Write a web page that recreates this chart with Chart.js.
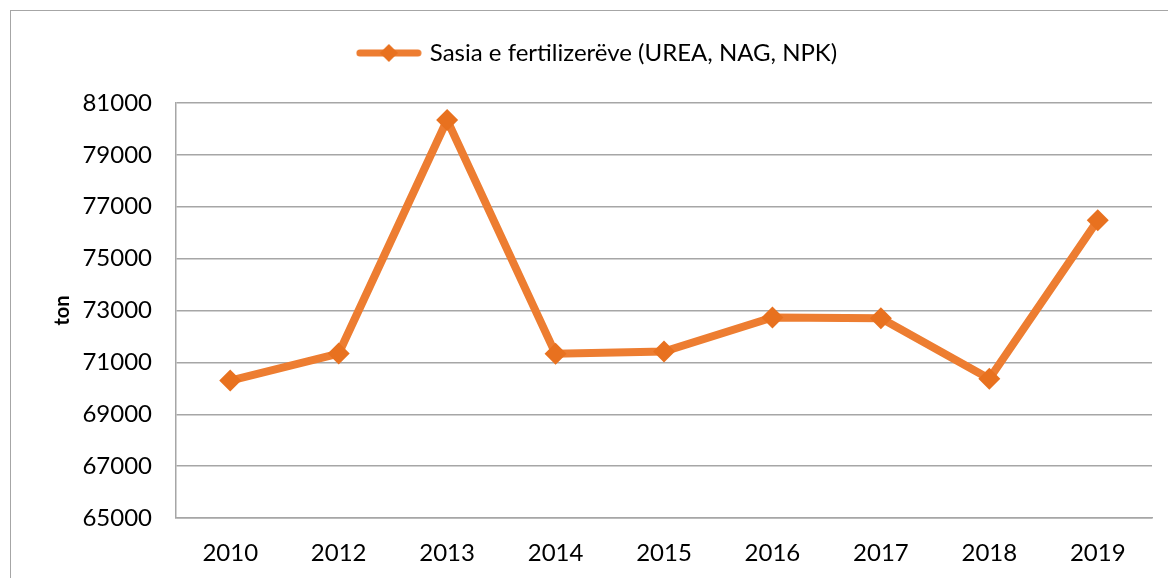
<!DOCTYPE html>
<html>
<head>
<meta charset="utf-8">
<script src="https://cdn.jsdelivr.net/npm/chart.js@4/dist/chart.umd.min.js"></script>
<style>
  html, body { margin: 0; padding: 0; background: #fff; overflow: hidden; }
  #wrap { position: relative; width: 1168px; height: 578px; }
  #frame { position: absolute; left: 10px; top: 10px; width: 1170px; height: 580px; border: 1.5px solid #a6a6a6; }
  canvas { position: absolute; left: 0; top: 0; }
</style>
</head>
<body>
<div id="wrap">
  <div id="frame"></div>
  <canvas id="chart" width="1168" height="578"></canvas>
</div>
<script>
const years = ['2010', '2012', '2013', '2014', '2015', '2016', '2017', '2018', '2019'];
const fertilizer = [70300, 71340, 80340, 71330, 71420, 72730, 72700, 70370, 76480];
const seriesName = 'Sasia e fertilizerëve (UREA, NAG, NPK)';
const orange = '#ED7D31';

// legend icon: line with a diamond
function legendIcon(){
  const c = document.createElement('canvas');
  c.width = 66; c.height = 20;
  const g = c.getContext('2d');
  g.strokeStyle = orange;
  g.lineWidth = 7;
  g.lineCap = 'round';
  g.beginPath();
  g.moveTo(4, 10); g.lineTo(62, 10);
  g.stroke();
  g.fillStyle = '#E8711F';
  g.beginPath();
  g.moveTo(33, 1); g.lineTo(42, 10); g.lineTo(33, 19); g.lineTo(24, 10);
  g.closePath();
  g.fill();
  return c;
}
const icon = legendIcon();

// extra room under the legend
const legendGap = {
  id: 'legendGap',
  beforeInit(chart){
    const fit = chart.legend.fit;
    chart.legend.fit = function(){
      fit.bind(chart.legend)();
      this.height += 28;
    };
  }
};

const ctx = document.getElementById('chart');

new Chart(ctx, {
  type: 'line',
  data: {
    labels: years,
    datasets: [{
      label: seriesName,
      data: fertilizer,
      borderColor: orange,
      backgroundColor: '#E8711F',
      borderWidth: 8,
      pointStyle: 'rectRot',
      pointRadius: 11,
      pointBorderWidth: 0,
      tension: 0
    }]
  },
  options: {
    responsive: false,
    animation: false,
    layout: { padding: { top: 27, left: 45, right: 16, bottom: 0 } },
    plugins: {
      legend: {
        display: true,
        labels: {
          usePointStyle: true,
          pointStyleWidth: 58,
          font: { family: 'Lato', size: 24 },
          color: '#000',
          padding: 14,
          generateLabels: (chart) => [{
            text: seriesName,
            pointStyle: icon,
            fillStyle: orange,
            strokeStyle: orange,
            lineWidth: 0,
            datasetIndex: 0
          }]
        }
      },
      tooltip: { enabled: false }
    },
    scales: {
      x: {
        offset: true,
        afterFit: (scale) => { scale.height = 60; },
        grid: { display: true, drawOnChartArea: false, drawTicks: false },
        border: { display: true, color: '#a6a6a6', width: 1.5 },
        ticks: { color: '#000', font: { family: 'Lato', size: 24 }, padding: 21 }
      },
      y: {
        min: 65000,
        max: 81000,
        afterFit: (scale) => { scale.width = 131; },
        grid: { color: '#a6a6a6', lineWidth: 1.5, drawTicks: false },
        border: { display: true, color: '#a6a6a6', width: 1.5 },
        title: { display: true, text: 'ton', color: '#000', font: { family: 'Lato', size: 20, weight: 'bold' }, padding: { top: 6, bottom: 0 } },
        ticks: {
          stepSize: 2000, color: '#000', font: { family: 'Lato', size: 24 }, padding: 24,
          callback: (v) => String(v)
        }
      }
    }
  },
  plugins: [legendGap]
});
</script>
</body>
</html>
